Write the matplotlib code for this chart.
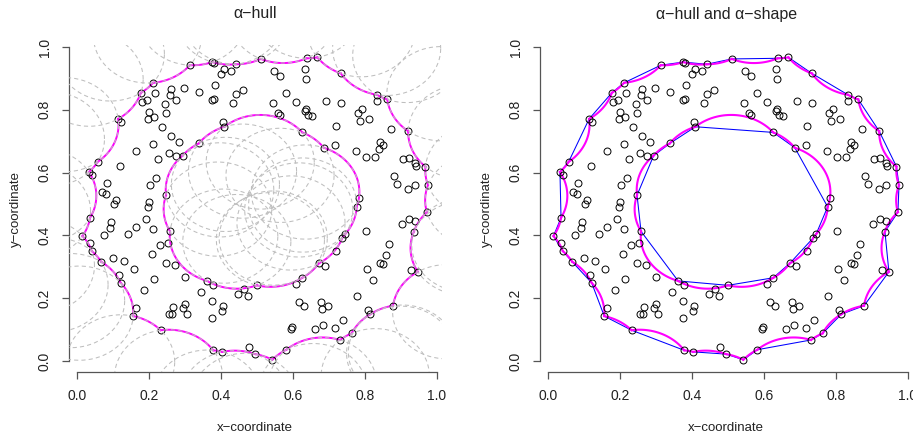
import numpy as np
import matplotlib.pyplot as plt

plt.rcParams["font.family"] = ["Liberation Sans", "DejaVu Sans"]

# radius of the alpha balls
alpha = 0.15

# sample points
px = [0.314, 0.212, 0.178, 0.216, 0.263, 0.299, 0.260, 0.276, 0.180, 0.194,
      0.245, 0.115, 0.122, 0.201, 0.214, 0.198, 0.248, 0.236, 0.263, 0.285,
      0.213, 0.165, 0.256, 0.276, 0.294, 0.226, 0.058, 0.121, 0.034, 0.043,
      0.221, 0.085, 0.203, 0.069, 0.081, 0.248, 0.108, 0.103, 0.201, 0.197,
      0.037, 0.096, 0.092, 0.077, 0.016, 0.192, 0.165, 0.143, 0.213, 0.259,
      0.038, 0.042, 0.231, 0.254, 0.209, 0.100, 0.131, 0.068, 0.249, 0.273,
      0.160, 0.118, 0.122, 0.215, 0.301, 0.188, 0.165, 0.157, 0.268, 0.301,
      0.296, 0.256, 0.265, 0.306, 0.233, 0.362, 0.378, 0.500, 0.626, 0.609,
      0.344, 0.464, 0.449, 0.475, 0.375, 0.406, 0.404, 0.376, 0.617, 0.630,
      0.597, 0.594, 0.661, 0.379, 0.404, 0.479, 0.495, 0.543, 0.582, 0.376,
      0.382, 0.441, 0.409, 0.400, 0.428, 0.511, 0.548, 0.565, 0.638, 0.668,
      0.634, 0.636, 0.385, 0.339, 0.375, 0.381, 0.441, 0.462, 0.435, 0.582,
      0.545, 0.609, 0.637, 0.634, 0.641, 0.654, 0.560, 0.565, 0.406, 0.410,
      0.626, 0.339, 0.733, 0.833, 0.834, 0.862, 0.691, 0.733, 0.792, 0.780,
      0.786, 0.810, 0.719, 0.871, 0.920, 0.686, 0.716, 0.775, 0.843, 0.851,
      0.839, 0.804, 0.827, 0.906, 0.921, 0.939, 0.943, 0.968, 0.880, 0.890,
      0.939, 0.919, 0.975, 0.784, 0.777, 0.972, 0.902, 0.922, 0.938, 0.936,
      0.804, 0.745, 0.737, 0.721, 0.868, 0.858, 0.842, 0.850, 0.672, 0.689,
      0.806, 0.822, 0.929, 0.947, 0.779, 0.677, 0.697, 0.680, 0.878, 0.809,
      0.815, 0.740, 0.684, 0.717, 0.763, 0.731]
py = [0.942, 0.886, 0.854, 0.853, 0.865, 0.870, 0.846, 0.831, 0.824, 0.831,
      0.818, 0.771, 0.760, 0.792, 0.777, 0.770, 0.791, 0.744, 0.717, 0.697,
      0.691, 0.669, 0.663, 0.653, 0.654, 0.642, 0.634, 0.621, 0.602, 0.593,
      0.584, 0.566, 0.561, 0.537, 0.532, 0.528, 0.513, 0.500, 0.505, 0.491,
      0.456, 0.442, 0.424, 0.400, 0.398, 0.452, 0.427, 0.405, 0.419, 0.413,
      0.377, 0.350, 0.368, 0.377, 0.340, 0.327, 0.318, 0.316, 0.313, 0.306,
      0.293, 0.273, 0.249, 0.260, 0.267, 0.227, 0.170, 0.143, 0.173, 0.182,
      0.170, 0.149, 0.150, 0.150, 0.098, 0.255, 0.243, 0.241, 0.265, 0.244,
      0.220, 0.228, 0.212, 0.206, 0.190, 0.175, 0.158, 0.137, 0.187, 0.175,
      0.108, 0.101, 0.101, 0.034, 0.029, 0.045, 0.022, 0.004, 0.036, 0.952,
      0.948, 0.945, 0.931, 0.915, 0.924, 0.962, 0.923, 0.908, 0.964, 0.967,
      0.929, 0.897, 0.878, 0.858, 0.832, 0.833, 0.850, 0.862, 0.823, 0.854,
      0.821, 0.825, 0.803, 0.795, 0.783, 0.781, 0.789, 0.783, 0.762, 0.746,
      0.728, 0.693, 0.916, 0.848, 0.827, 0.833, 0.828, 0.821, 0.803, 0.791,
      0.764, 0.770, 0.748, 0.738, 0.732, 0.679, 0.687, 0.670, 0.697, 0.688,
      0.676, 0.649, 0.649, 0.643, 0.647, 0.630, 0.620, 0.619, 0.590, 0.565,
      0.560, 0.548, 0.560, 0.518, 0.491, 0.474, 0.436, 0.451, 0.447, 0.412,
      0.414, 0.404, 0.392, 0.351, 0.373, 0.339, 0.313, 0.308, 0.311, 0.304,
      0.292, 0.258, 0.291, 0.284, 0.208, 0.189, 0.174, 0.166, 0.176, 0.161,
      0.149, 0.131, 0.114, 0.105, 0.088, 0.067]

x = np.array(px)
y = np.array(py)
pts = np.column_stack([x, y])
n = len(pts)

# alpha-shape edges: pairs of points with an empty alpha-ball through both
edges = []
for i in range(n):
    for j in range(i + 1, n):
        d = np.hypot(x[j] - x[i], y[j] - y[i])
        if d == 0 or d >= 2 * alpha:
            continue
        mid = (pts[i] + pts[j]) / 2
        u = (pts[j] - pts[i]) / d
        nrm = np.array([-u[1], u[0]])
        h = np.sqrt(alpha ** 2 - (d / 2) ** 2)
        for s in (1, -1):
            c = mid + s * h * nrm
            dist = np.hypot(x - c[0], y - c[1])
            dist[[i, j]] = np.inf
            if dist.min() >= alpha:
                edges.append((i, j, c))


def arc(i, j, c, num=40):
    a1 = np.arctan2(y[i] - c[1], x[i] - c[0])
    a2 = np.arctan2(y[j] - c[1], x[j] - c[0])
    da = (a2 - a1 + np.pi) % (2 * np.pi) - np.pi
    t = a1 + np.linspace(0, 1, num) * da
    return c[0] + alpha * np.cos(t), c[1] + alpha * np.sin(t)


W, H = 913, 436
fig = plt.figure(figsize=(W / 100, H / 100), dpi=100)

xr = x.max() - x.min()
yr = y.max() - y.min()
xlim = (x.min() - 0.04 * xr, x.max() + 0.04 * xr)
ylim = (y.min() - 0.04 * yr, y.max() + 0.04 * yr)
sx, sy = 360.3, 314.0
ticks = [0.0, 0.2, 0.4, 0.6, 0.8, 1.0]
titles = ["\u03b1\u2212hull", "\u03b1\u2212hull and \u03b1\u2212shape"]
axcol = "#555555"

for p, x0 in enumerate([76.7, 547.7]):
    left = x0 + sx * xlim[0]
    bottom = (H - 361) + sy * ylim[0]
    w = sx * (xlim[1] - xlim[0])
    h = sy * (ylim[1] - ylim[0])
    ax = fig.add_axes([left / W, bottom / H, w / W, h / H])
    ax.set_xlim(xlim)
    ax.set_ylim(ylim)

    ax.plot(x, y, "o", mfc="none", mec="black", ms=5, mew=0.7, zorder=3)

    if p == 0:
        for i, j, c in edges:
            ax.plot(*arc(i, j, c), color="#FF00FF", lw=1.4, zorder=2)
        # complement: the empty alpha balls
        t = np.linspace(0, 2 * np.pi, 240)
        for i, j, c in edges:
            ax.plot(c[0] + alpha * np.cos(t), c[1] + alpha * np.sin(t),
                    color="#BEBEBE", lw=0.75, ls=(0, (4, 3)), zorder=4)
    else:
        for i, j, c in edges:
            ax.plot([x[i], x[j]], [y[i], y[j]], color="#0000FF", lw=0.75, zorder=2)
        for i, j, c in edges:
            ax.plot(*arc(i, j, c), color="#FF00FF", lw=1.5, zorder=2)

    for s in ["top", "right"]:
        ax.spines[s].set_visible(False)
    for s in ["left", "bottom"]:
        ax.spines[s].set_bounds(0, 1)
        ax.spines[s].set_color(axcol)
        ax.spines[s].set_linewidth(0.9)
    ax.set_xticks(ticks)
    ax.set_yticks(ticks)
    ax.set_xticklabels([f"{v:.1f}" for v in ticks])
    ax.set_yticklabels([f"{v:.1f}" for v in ticks], rotation=90, va="center")
    ax.tick_params(direction="out", length=5, width=0.9, color=axcol,
                   labelsize=10, pad=7, labelcolor="#222222")
    ax.patch.set_visible(False)

    cxp = (left + w / 2) / W
    cyp = (bottom + h / 2) / H
    fig.text(cxp, 1 - 14 / H, titles[p], ha="center", va="center", fontsize=11.5,
             color="#222222")
    fig.text(cxp, 1 - 427.7 / H, "x\u2212coordinate", ha="center", va="center",
             fontsize=9.5, color="#222222")
    fig.text((x0 - 61) / W, cyp, "y\u2212coordinate", ha="center", va="center",
             rotation=90, fontsize=9.5, color="#222222")

fig.savefig("out.png", dpi=100)
